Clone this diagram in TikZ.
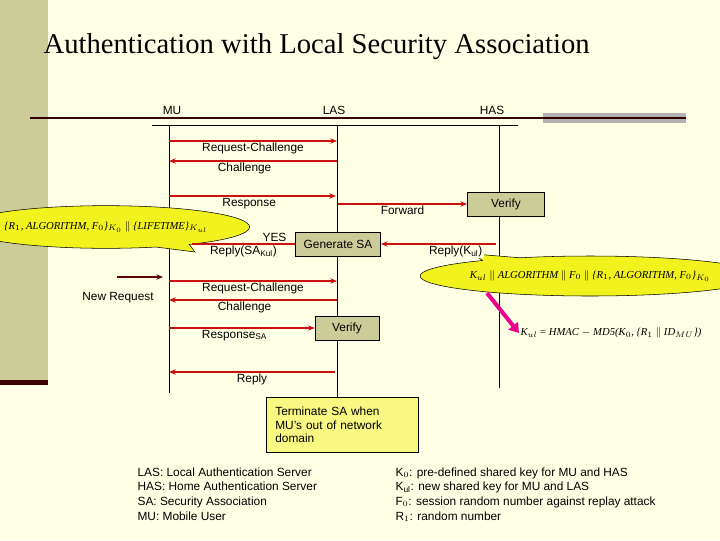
\documentclass[tikz,border=0pt]{standalone}
\usepackage{fontspec}
\setmainfont{Liberation Sans}
\newfontfamily\titlefont{Liberation Serif}
\usetikzlibrary{positioning, arrows.meta, shapes.geometric, shapes.callouts}
\definecolor{paper}{HTML}{FFFFE6}
\definecolor{bar}{HTML}{CCCC99}
\definecolor{msg}{HTML}{CC1111}
\definecolor{boxfill}{HTML}{CCCC99}
\definecolor{callfill}{HTML}{F2F21E}
\newcommand{\fm}[1]{{\titlefont\itshape\fontsize{8}{9}\selectfont #1}}

\begin{document}
\begin{tikzpicture}[
  x=0.75pt, y=-0.75pt,
  every node/.style={font=\fontsize{8.9}{10}\selectfont, inner sep=1pt},
  msgarrow/.style={draw=msg, line width=1.3pt, -{Stealth[length=5pt,width=4pt]}},
  thinmsg/.style={draw=msg, line width=0.8pt, -{Stealth[length=5pt,width=4pt]}},
  lifeline/.style={draw=black, line width=0.6pt},
  action/.style={draw, fill=boxfill, minimum width=60pt, minimum height=18pt},
  bubble/.style={ellipse callout, draw, fill=callfill, inner sep=0pt},
  lbl/.style={anchor=north}
]
\useasboundingbox (0,0) rectangle (720,540);
\clip (0,0) rectangle (720,540);

% background and frame
\fill[paper] (0,0) rectangle (720,540);
\fill[bar] (0,0) rectangle (48,380);
\fill[black!60!red!60!black] (0,380) rectangle (48,385);
\node[anchor=west, font=\titlefont\fontsize{21.5}{24}\selectfont] (title) at (42,47) {Authentication with Local Security Association};
\fill[black!30] (543,113) rectangle (686,123);
\draw[line width=1.4pt, black!80!red] (30,118) -- (686,118);
\draw[line width=0.6pt] (152,125) -- (518,125);

% entities
\node (MU) at (172,110) {MU};
\node (LAS) at (334,110) {LAS};
\node (HAS) at (492,110) {HAS};
\coordinate (mutop) at (169,125); \coordinate (mubot) at (169,393);
\coordinate (lastop) at (337,125); \coordinate (lasbot) at (337,398);
\coordinate (hastop) at (499,125); \coordinate (hasbot) at (499,388);
\draw[lifeline] (mutop) -- (mubot);
\draw[lifeline] (lastop) -- (lasbot);
\draw[lifeline] (hastop) -- (hasbot);

% callouts
\node[bubble, minimum width=162pt, minimum height=32pt, callout absolute pointer={(195,252)}] (leftcall) at (106,227)
  {\fm{\{R$_1$, ALGORITHM, F$_0$\}$_{K_0}$ {\upshape$\|$} \{LIFETIME\}$_{K_{ul}}$}};
\node[bubble, minimum width=196pt, minimum height=30pt, callout absolute pointer={(474,254)}] (rightcall) at (590,276)
  {\fm{K$_{ul}$ {\upshape$\|$} ALGORITHM {\upshape$\|$} F$_0$ {\upshape$\|$} \{R$_1$, ALGORITHM, F$_0$\}$_{K_0}$}};
\coordinate (kstart) at (487,293);
\node (kulformula) at (611,333) {\fm{K$_{ul}$ {\upshape=} HMAC {\upshape$-$} MD5(K$_0$, \{R$_1$ {\upshape$\|$} ID$_{MU}$\})}};
\draw[magenta, line width=3pt, -{Triangle[length=7pt,width=9pt]}] (kstart) -- (kulformula.west);

% action boxes
\node[action, minimum width=58pt] (verifyHAS) at (506,204) {Verify};
\node[action, minimum width=64pt] (generate) at (338,244) {Generate SA};
\node[action, minimum width=48pt] (verifyLAS) at (347,328) {Verify};
\node[draw, fill=callfill!55, minimum width=114pt, minimum height=41pt, align=left, text width=100pt] (terminate) at (342,425) {Terminate SA when\\MU's out of network\\domain};

% messages
\coordinate (m1a) at (169,141); \coordinate (m1b) at (337,141);
\draw[msgarrow] (m1a) -- (m1b) node[lbl, midway] {Request-Challenge};
\coordinate (m2a) at (337,161); \coordinate (m2b) at (169,161);
\draw[msgarrow] (m2a) -- (m2b) node[lbl, pos=0.55] {Challenge};
\coordinate (m3a) at (169,196); \coordinate (m3b) at (336,196);
\draw[msgarrow] (m3a) -- (m3b) node[lbl, pos=0.48] {Response};
\coordinate (m4a) at (338,204);
\draw[msgarrow] (m4a) -- (verifyHAS.west) node[lbl, midway] {Forward};
\coordinate (m5a) at (496,244);
\draw[thinmsg, line width=1pt] (m5a) -- (generate.east) node[lbl, pos=0.35, fill=paper] {Reply(K$_{\mathrm{ul}}$)};
\coordinate (m6b) at (192,244);
\draw[draw=msg, line width=1.3pt] (generate.west) -- (m6b) node[anchor=south, pos=0.2] {YES} node[lbl, pos=0.5] {Reply(SA$_{\mathrm{Kul}}$)};

\coordinate (nra) at (117,277); \coordinate (nrb) at (163,277);
\draw[draw=black!50!red!70!black, line width=1.3pt, -{Stealth[length=5pt,width=4pt]}] (nra) -- (nrb);
\node (newreq) at (118,298) {New Request};
\coordinate (m7a) at (169,281); \coordinate (m7b) at (337,281);
\draw[thinmsg] (m7a) -- (m7b) node[lbl, midway] {Request-Challenge};
\coordinate (m8a) at (337,300); \coordinate (m8b) at (169,300);
\draw[msgarrow] (m8a) -- (m8b) node[lbl, pos=0.55] {Challenge};
\coordinate (m9a) at (169,328);
\draw[thinmsg] (m9a) -- (verifyLAS.west) node[lbl, pos=0.45] {Response$_{\mathrm{SA}}$};
\coordinate (m10a) at (335,372); \coordinate (m10b) at (169,372);
\draw[msgarrow] (m10a) -- (m10b) node[lbl, midway] {Reply};

% legends
\node[anchor=north west, align=left, font=\fontsize{8.9}{11}\selectfont] (legendL) at (136,466)
  {LAS: Local Authentication Server\\HAS: Home Authentication Server\\SA: Security Association\\MU: Mobile User};
\node[anchor=north west, align=left, font=\fontsize{8.9}{11}\selectfont] (legendR) at (394,466)
  {K$_0$: pre-defined shared key for MU and HAS\\K$_{\mathrm{ul}}$: new shared key for MU and LAS\\F$_0$: session random number against replay attack\\R$_1$: random number};
\end{tikzpicture}
\end{document}
